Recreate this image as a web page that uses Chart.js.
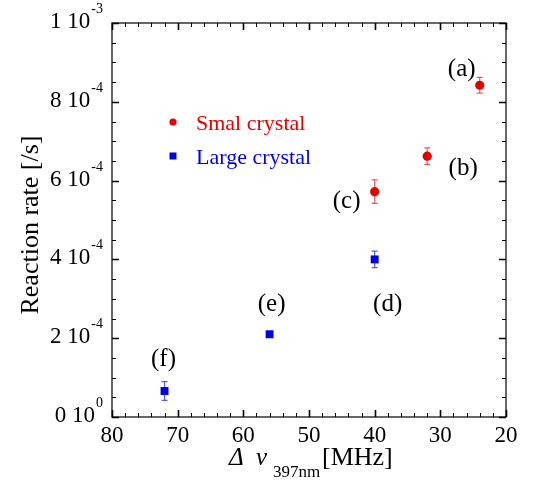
<!DOCTYPE html>
<html>
<head>
<meta charset="utf-8">
<script src="https://cdn.jsdelivr.net/npm/chart.js@4"></script>
<style>
html,body{margin:0;padding:0;background:#fff;}
#wrap{width:533px;height:483px;}
</style>
</head>
<body>
<div id="wrap"><canvas id="c" width="533" height="483"></canvas></div>
<script>
// ---- data ----
const smallX = [24, 32, 40];
const smallY = [8.42e-4, 6.62e-4, 5.72e-4];
const smallErr = [0.20e-4, 0.21e-4, 0.30e-4];
const smallLabels = ['(a)', '(b)', '(c)'];

const largeX = [40, 56, 72];
const largeY = [4.00e-4, 2.10e-4, 0.66e-4];
const largeErr = [0.21e-4, 0.05e-4, 0.24e-4];
const largeLabels = ['(d)', '(e)', '(f)'];

const seriesNames = ['Smal crystal', 'Large crystal'];

const xTickValues = [80, 70, 60, 50, 40, 30, 20];
const yTickValues = [0, 2e-4, 4e-4, 6e-4, 8e-4, 1e-3];
const yTickMantissa = ['0', '2', '4', '6', '8', '1'];
const yTickExponent = ['0', '-4', '-4', '-4', '-4', '-3'];

const xTitleParts = ['Δ', 'ν', '397nm', '[MHz]'];
const yTitle = 'Reaction rate [/s]';

// ---- styles ----
const RED = 'rgb(228,0,0)';
const BLUE = 'rgb(0,0,225)';
const RED_ERR = 'rgba(228,0,0,0.65)';
const BLUE_ERR = 'rgba(0,0,225,0.65)';
const SERIF = '"Liberation Serif", "Times New Roman", serif';

const errorData = [smallErr, largeErr];
const errColors = [RED_ERR, BLUE_ERR];
// label offsets (pixels) relative to the point
const labelOffsets = [
  [[-18, -9], [36, 19], [-28, 16]],
  [[13, 52], [2, -23], [-1, -25]]
];
const pointLabels = [smallLabels, largeLabels];

const decorPlugin = {
  id: 'decor',
  beforeDatasetsDraw(chart) {
    const ctx = chart.ctx;
    const xs = chart.scales.x, ys = chart.scales.y;
    ctx.save();
    chart.data.datasets.forEach((ds, di) => {
      ctx.strokeStyle = errColors[di];
      ctx.lineWidth = 1.2;
      ds.data.forEach((p, i) => {
        const e = errorData[di][i];
        const px = xs.getPixelForValue(p.x);
        const y1 = ys.getPixelForValue(p.y - e);
        const y2 = ys.getPixelForValue(p.y + e);
        ctx.beginPath();
        ctx.moveTo(px, y1); ctx.lineTo(px, y2);
        ctx.moveTo(px - 3, y1); ctx.lineTo(px + 3, y1);
        ctx.moveTo(px - 3, y2); ctx.lineTo(px + 3, y2);
        ctx.stroke();
      });
    });
    ctx.restore();
  },
  afterDraw(chart) {
    const ctx = chart.ctx;
    const a = chart.chartArea;
    const xs = chart.scales.x, ys = chart.scales.y;
    ctx.save();
    // frame
    ctx.strokeStyle = '#000';
    ctx.lineWidth = 1.2;
    ctx.strokeRect(a.left, a.top, a.right - a.left, a.bottom - a.top);
    // x ticks (inward, bottom & top)
    const xMin = Math.min(...xTickValues), xMax = Math.max(...xTickValues);
    for (let v = xMin; v <= xMax + 1e-9; v += 2) {
      const major = xTickValues.includes(v);
      const px = Math.round(xs.getPixelForValue(v)) + 0.5;
      const len = major ? 7 : 4;
      ctx.lineWidth = major ? 1.6 : 1;
      ctx.beginPath();
      ctx.moveTo(px, a.bottom); ctx.lineTo(px, a.bottom - len);
      ctx.moveTo(px, a.top); ctx.lineTo(px, a.top + len);
      ctx.stroke();
    }
    // y ticks (inward, left & right)
    const yMax = Math.max(...yTickValues);
    for (let k = 0; k <= 20; k++) {
      const v = k * yMax / 20;
      const major = k % 4 === 0;
      const py = Math.round(ys.getPixelForValue(v)) + 0.5;
      const len = major ? 7 : 4;
      ctx.lineWidth = major ? 1.6 : 1;
      ctx.beginPath();
      ctx.moveTo(a.left, py); ctx.lineTo(a.left + len, py);
      ctx.moveTo(a.right, py); ctx.lineTo(a.right - len, py);
      ctx.stroke();
    }
    // x tick labels
    ctx.fillStyle = '#000';
    ctx.font = '23px ' + SERIF;
    ctx.textAlign = 'center';
    ctx.textBaseline = 'alphabetic';
    xTickValues.forEach(v => {
      ctx.fillText(String(v), xs.getPixelForValue(v), a.bottom + 25);
    });
    // y tick labels with superscript exponent
    yTickValues.forEach((v, i) => {
      const py = ys.getPixelForValue(v);
      const rightEdge = a.left - 9;
      ctx.font = '14px ' + SERIF;
      const wExp = ctx.measureText(yTickExponent[i]).width;
      ctx.font = '23px ' + SERIF;
      const base = yTickMantissa[i] + ' 10';
      const wBase = ctx.measureText(base).width;
      ctx.textAlign = 'left';
      const x0 = rightEdge - wExp - wBase - 1;
      ctx.fillText(base, x0, py + 5);
      ctx.font = '14px ' + SERIF;
      ctx.fillText(yTickExponent[i], x0 + wBase + 1, py - 10);
    });
    // y title
    ctx.save();
    ctx.font = '26px ' + SERIF;
    ctx.textAlign = 'center';
    ctx.translate(38, (a.top + a.bottom) / 2 + 5);
    ctx.rotate(-Math.PI / 2);
    ctx.fillText(yTitle, 0, 0);
    ctx.restore();
    // x title
    ctx.textAlign = 'left';
    const tb = 465;
    ctx.font = 'italic 25px ' + SERIF;
    ctx.fillText(xTitleParts[0], 229, tb);
    ctx.fillText(xTitleParts[1], 256, tb);
    ctx.font = '17px ' + SERIF;
    ctx.fillText(xTitleParts[2], 273, tb + 12);
    ctx.font = '26px ' + SERIF;
    ctx.fillText(xTitleParts[3], 322, tb);
    // point labels
    ctx.font = '25px ' + SERIF;
    ctx.textAlign = 'center';
    chart.data.datasets.forEach((ds, di) => {
      ds.data.forEach((p, i) => {
        const px = xs.getPixelForValue(p.x);
        const py = ys.getPixelForValue(p.y);
        const off = labelOffsets[di][i];
        ctx.fillText(pointLabels[di][i], px + off[0], py + off[1]);
      });
    });
    // legend
    const legendY = [122, 156];
    chart.data.datasets.forEach((ds, di) => {
      const my = legendY[di];
      ctx.fillStyle = ds.backgroundColor;
      if (ds.pointStyle === 'circle') {
        ctx.beginPath(); ctx.arc(173, my, 3.6, 0, Math.PI * 2); ctx.fill();
      } else {
        ctx.fillRect(169.5, my - 3.5, 7, 7);
      }
      ctx.font = '22px ' + SERIF;
      ctx.textAlign = 'left';
      ctx.fillText(ds.label, 196, my + 8);
    });
    ctx.restore();
  }
};

new Chart(document.getElementById('c'), {
  type: 'scatter',
  data: {
    datasets: [
      {
        label: seriesNames[0],
        data: smallX.map((x, i) => ({ x: x, y: smallY[i] })),
        pointStyle: 'circle',
        pointRadius: 4.6,
        backgroundColor: RED,
        borderColor: RED,
        borderWidth: 0
      },
      {
        label: seriesNames[1],
        data: largeX.map((x, i) => ({ x: x, y: largeY[i] })),
        pointStyle: 'rect',
        pointRadius: 5.6,
        backgroundColor: BLUE,
        borderColor: BLUE,
        borderWidth: 0
      }
    ]
  },
  options: {
    responsive: false,
    animation: false,
    devicePixelRatio: 1,
    layout: { padding: { top: 23, right: 27, left: 0, bottom: 0 } },
    plugins: { legend: { display: false }, tooltip: { enabled: false } },
    scales: {
      x: {
        type: 'linear', reverse: true, min: 20, max: 80,
        ticks: { display: false }, grid: { display: false }, border: { display: false },
        afterFit(s) { s.height = 66; }
      },
      y: {
        type: 'linear', min: 0, max: 1e-3,
        ticks: { display: false }, grid: { display: false }, border: { display: false },
        afterFit(s) { s.width = 112; }
      }
    }
  },
  plugins: [decorPlugin]
});
</script>
</body>
</html>
